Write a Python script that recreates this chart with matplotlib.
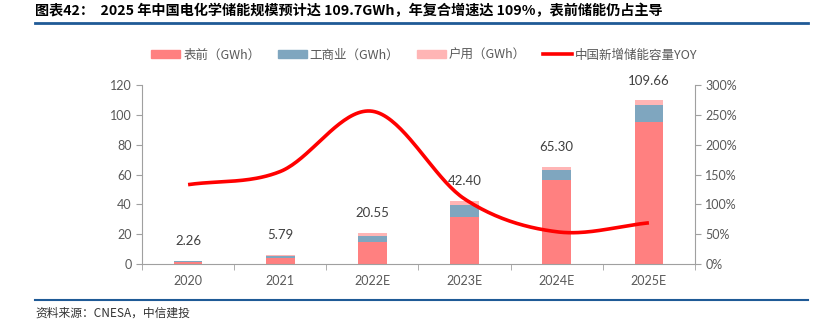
import numpy as np
import matplotlib
matplotlib.use("Agg")
import matplotlib.pyplot as plt
from matplotlib.lines import Line2D
from matplotlib.patches import Patch

plt.rcParams['font.family'] = ['Noto Sans CJK SC', 'DejaVu Sans']

categories = ["2020", "2021", "2022E", "2023E", "2024E", "2025E"]
front = [1.2, 4.3, 15.0, 31.3, 56.0, 95.5]
commercial = [0.7, 0.8, 4.0, 8.3, 7.2, 10.8]
household = [0.36, 0.69, 1.55, 2.8, 2.1, 3.36]
totals = [2.26, 5.79, 20.55, 42.40, 65.30, 109.66]
yoy = [1.33, 1.55, 2.56, 1.09, 0.54, 0.69]

c_front = "#FF8080"
c_comm = "#7FA6BF"
c_house = "#FFB5B5"
c_line = "#FF0000"
gray = "#595959"
numfont = ["Lato", "DejaVu Sans"]

fig = plt.figure(figsize=(8.31, 3.29), dpi=100)
ax = fig.add_axes([142/831, 1-264/329, (695-142)/831, (264-85)/329])
x = np.arange(len(categories))
w = 0.31
ax.bar(x, front, w, color=c_front)
ax.bar(x, commercial, w, bottom=front, color=c_comm)
b2 = np.array(front) + np.array(commercial)
ax.bar(x, household, w, bottom=b2, color=c_house)
for xi, t in zip(x, totals):
    ax.annotate(f"{t:.2f}", (xi, t), xytext=(0, 10), textcoords="offset points",
                ha="center", va="bottom", fontsize=9.5, color="#404040",
                family=numfont)
ax.set_xlim(-0.5, 5.5)
ax.set_ylim(0, 120)
ax.set_yticks(range(0, 121, 20))
ax.set_xticks(x)
ax.set_xticklabels(categories)
ax.set_xticks(np.arange(-0.5, 5.6, 1), minor=True)
ax.tick_params(axis='x', which='major', length=0, pad=8)
ax.tick_params(axis='x', which='minor', length=4, color="#A0A0A0")
ax.tick_params(axis='y', length=4, color="#A0A0A0")
for lab in ax.get_xticklabels() + ax.get_yticklabels():
    lab.set_fontsize(9); lab.set_color(gray); lab.set_family(numfont)
for s in ["top", "right"]:
    ax.spines[s].set_visible(False)
for s in ["left", "bottom"]:
    ax.spines[s].set_color("#A0A0A0")

ax2 = ax.twinx()
ax2.set_ylim(0, 3.0)
ax2.set_yticks(np.arange(0, 3.01, 0.5))
ax2.set_yticklabels([f"{int(round(v*100))}%" for v in np.arange(0, 3.01, 0.5)])
ax2.tick_params(axis='y', length=4, color="#A0A0A0")
for lab in ax2.get_yticklabels():
    lab.set_fontsize(9); lab.set_color(gray); lab.set_family(numfont)
for s in ["top", "left", "bottom"]:
    ax2.spines[s].set_visible(False)
ax2.spines["right"].set_color("#A0A0A0")

# Smooth curve (Catmull-Rom through the data points, Excel-style smoothing)
px = x.astype(float); py = np.array(yoy)
P = np.column_stack([px, py])
Pext = np.vstack([P[0] - (P[1]-P[0]), P, P[-1] + (P[-1]-P[-2])])
curve = []
for i in range(1, len(Pext)-2):
    p0, p1, p2, p3 = Pext[i-1], Pext[i], Pext[i+1], Pext[i+2]
    t = np.linspace(0, 1, 40)[:, None]
    seg = 0.5*((2*p1) + (-p0+p2)*t + (2*p0-5*p1+4*p2-p3)*t**2 + (-p0+3*p1-3*p2+p3)*t**3)
    curve.append(seg)
curve = np.vstack(curve)
ax2.plot(curve[:, 0], curve[:, 1], color=c_line, lw=2.6, solid_capstyle='butt')

handles = [Patch(color=c_front), Patch(color=c_comm), Patch(color=c_house),
           Line2D([], [], color=c_line, lw=2.6)]
labels = ["表前（GWh）", "工商业（GWh）", "户用（GWh）", "中国新增储能容量YOY"]
fig.legend(handles, labels, loc="center", bbox_to_anchor=(424.5/831, 1-55/329),
           ncol=4, frameon=False, fontsize=9.0, handlelength=2.3, handleheight=0.65,
           columnspacing=1.4, handletextpad=0.25, labelcolor=gray)

fig.text(35/831, 1-10.5/329, "图表42：  2025 年中国电化学储能规模预计达 109.7GWh，年复合增速达 109%，表前储能仍占主导",
         fontsize=10.2, fontweight="bold", va="center", ha="left", color="black")
fig.add_artist(Line2D([35/831, 808/831], [1-22.5/329, 1-22.5/329], color="#1F5A96", lw=2))
fig.add_artist(Line2D([35/831, 808/831], [1-300/329, 1-300/329], color="#1F5A96", lw=1.5))
fig.text(35/831, 1-313/329, "资料来源：CNESA，中信建投", fontsize=8.5, style="italic",
         va="center", ha="left", color="#333333")

fig.savefig("out.png", dpi=100)
